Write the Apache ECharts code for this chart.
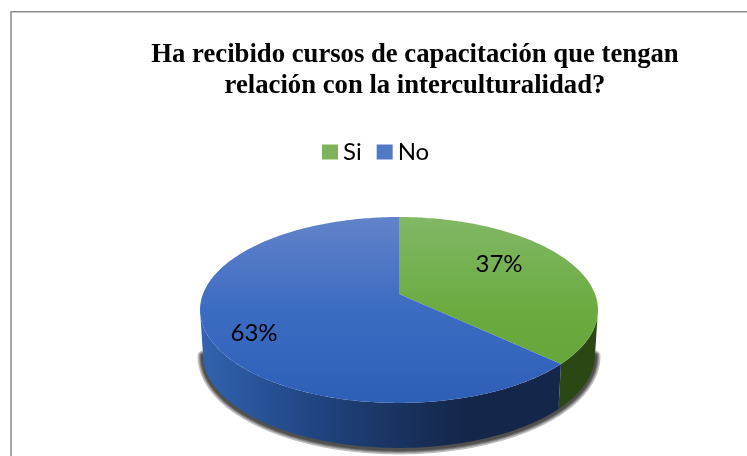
<!DOCTYPE html>
<html>
<head>
<meta charset="utf-8">
<script src="https://cdn.jsdelivr.net/npm/echarts@6/dist/echarts.min.js"></script>
<style>
  html, body { margin: 0; padding: 0; background: #fff; }
  #chart { width: 747px; height: 456px; }
</style>
</head>
<body>
<div id="chart"></div>
<script>
const titleText = "Ha recibido cursos de capacitación que tengan\nrelación con la interculturalidad?";
const categories = ["Si", "No"];
const percentages = [37, 63];

// perspective disc: apex on screen, half axes, tilt strength, wall height
const cx = 399, cy = 294, ax = 196, ay = 90.2, tilt = 0.172, depth = 45, baseScale = 0.985;
const total = percentages.reduce((a, b) => a + b, 0);

function project(angle) {
  const w = 1 + tilt * Math.cos(angle);
  return [ax * Math.sin(angle) / w, -ay * Math.cos(angle) / w];
}
function rim(from, to) {
  const pts = [];
  const steps = Math.max(2, Math.ceil((to - from) * 60));
  for (let i = 0; i <= steps; i++) {
    const p = project(from + (to - from) * i / steps);
    pts.push([cx + p[0], cy + p[1]]);
  }
  return pts;
}
function lowerRim(from, to) {
  return rim(from, to).map(p => [cx + (p[0] - cx) * baseScale, p[1] + depth]).reverse();
}
function vGrad(stops, y0, y1) {
  return new echarts.graphic.LinearGradient(0, y0, 0, y1,
    stops.map((c, i) => ({ offset: i / (stops.length - 1), color: c })), true);
}
function hGrad(stops, x0, x1) {
  return new echarts.graphic.LinearGradient(x0, 0, x1, 0,
    stops.map((c, i) => ({ offset: i / (stops.length - 1), color: c })), true);
}

const topColors = [
  vGrad(["#82b866", "#6aab40", "#62a437"], 217, 403),
  vGrad(["#6283c9", "#3c6bc2", "#2e5fb6"], 217, 403)
];
const wallColors = [
  hGrad(["#2a4714", "#2a4714"], 550, 600),
  hGrad(["#3163ae", "#234a8c", "#1a3767", "#14264a", "#14264a"], 203, 553)
];
const legendColors = [
  vGrad(["#7cb45c", "#64a537"], 143, 160),
  vGrad(["#5379c6", "#2e5fb6"], 143, 160)
];
const labelOffsets = [[100, -30], [-145, 39]];
const shadowWidths = [11, 8, 6, 4];
// the far part of the rim has no wall, it starts where the disc is widest
const wallFrom = Math.acos(-tilt), wallTo = 2 * Math.PI - wallFrom;

function renderSlice(idx) {
  return function (params, api) {
    const value = api.value(0);
    let before = 0;
    for (let i = 0; i < idx; i++) before += percentages[i];
    const start = before / total * 2 * Math.PI;
    const end = (before + value) / total * 2 * Math.PI;
    const children = [];

    // soft shadow under the whole wall, drawn once as widening see-through strokes
    if (idx === 0) {
      const base = lowerRim(wallFrom, wallTo).map(p => [p[0], p[1] + 1]);
      shadowWidths.forEach(function (w) {
        children.push({
          type: "polyline", z2: 0, shape: { points: base },
          style: { fill: "none", stroke: "rgba(0,0,0,0.25)", lineWidth: w, lineCap: "round", lineJoin: "round" }
        });
      });
    }
    const a = Math.max(start, wallFrom), b = Math.min(end, wallTo);
    if (b > a) {
      children.push({
        type: "polygon", z2: 1, shape: { points: rim(a, b).concat(lowerRim(a, b)) },
        style: { fill: wallColors[idx] }
      });
    }
    children.push({
      type: "polygon", z2: 2,
      shape: { points: [[cx, cy]].concat(rim(start, end)) },
      style: { fill: topColors[idx] }
    });
    children.push({
      type: "text", z2: 3,
      style: {
        x: cx + labelOffsets[idx][0], y: cy + labelOffsets[idx][1],
        text: value + "%", fill: "#000",
        font: "24px Lato", textAlign: "center", textVerticalAlign: "middle"
      }
    });
    return { type: "group", children: children };
  };
}

const chart = echarts.init(document.getElementById("chart"), null, { renderer: "canvas" });
chart.setOption({
  animation: false,
  backgroundColor: "#fff",
  title: {
    text: titleText,
    left: 410, top: 35, textAlign: "center",
    textStyle: { fontFamily: "Liberation Serif", fontWeight: "bold", fontSize: 26.7, lineHeight: 31, color: "#000" }
  },
  legend: {
    top: 135, left: 317,
    itemWidth: 16, itemHeight: 15, itemGap: 15,
    icon: "rect",
    textStyle: { fontFamily: "Lato", fontSize: 24, color: "#000" },
    data: categories
  },
  graphic: [{
    type: "rect", silent: true, z: -1,
    shape: { x: 11, y: 11.75, width: 800, height: 500 },
    style: { fill: "none", stroke: "#8c8c8c", lineWidth: 1.5 }
  }],
  series: categories.map((name, i) => ({
    type: "custom",
    name: name,
    coordinateSystem: "none",
    itemStyle: { color: legendColors[i] },
    renderItem: renderSlice(i),
    data: [[percentages[i]]]
  }))
});
window.addEventListener("resize", function () {
  chart.resize();
});
</script>
</body>
</html>
